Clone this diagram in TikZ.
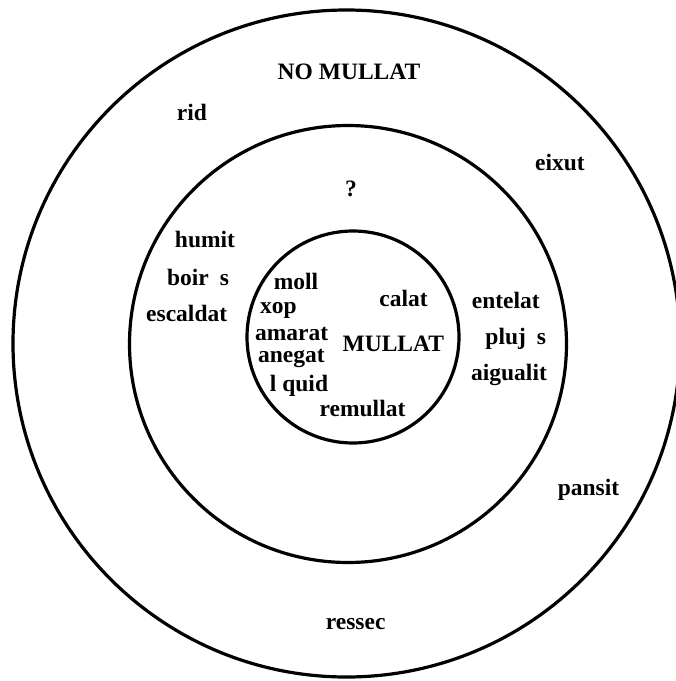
\documentclass[tikz,border=0pt]{standalone}
\usepackage{fontspec}
\setmainfont{Liberation Serif}
\begin{document}
\begin{tikzpicture}[x=1pt,y=-1pt,
  ring/.style={circle,draw=black,line width=3.2pt,inner sep=0pt,outer sep=0pt},
  word/.style={anchor=base,inner sep=0pt,font=\fontsize{23.5}{28}\selectfont\bfseries}]
\useasboundingbox (0,0) rectangle (676,681);
\fill[white] (0,0) rectangle (676,681);
\node[ring,minimum size=667pt] (outer) at (346.5,343.5) {};
\node[ring,minimum size=437pt] (middle) at (348,344) {};
\node[ring,minimum size=212pt] (inner) at (353,337) {};
% outer ring words
\node[word] (nomullat) at (349,79.5) {NO MULLAT};
\node[word] (rid) at (192,120.5) {rid};
\node[word] (eixut) at (560,170) {eixut};
\node[word] (pansit) at (588.5,495) {pansit};
\node[word] (ressec) at (355.7,629) {ressec};
% middle ring words
\node[word] (q) at (351,196) {?};
\node[word] (humit) at (205,247.7) {humit};
\node[word] (boirs) at (198,285.7) {boir\hspace{11pt}s};
\node[word] (escaldat) at (186.7,321.7) {escaldat};
\node[word] (entelat) at (505.8,308.3) {entelat};
\node[word] (plujs) at (515.8,344.3) {pluj\hspace{11pt}s};
\node[word] (aigualit) at (509,380) {aigualit};
% inner words
\node[word] (moll) at (296,289.3) {moll};
\node[word] (xop) at (278.3,313.3) {xop};
\node[word] (calat) at (403.5,306) {calat};
\node[word] (amarat) at (291.7,340) {amarat};
\node[word] (mullat) at (393.3,351.7) {MULLAT};
\node[word] (anegat) at (291.3,362.7) {anegat};
\node[word] (lquid) at (299,391.7) {l quid};
\node[word] (remullat) at (362.5,416.7) {remullat};
\end{tikzpicture}
\end{document}
